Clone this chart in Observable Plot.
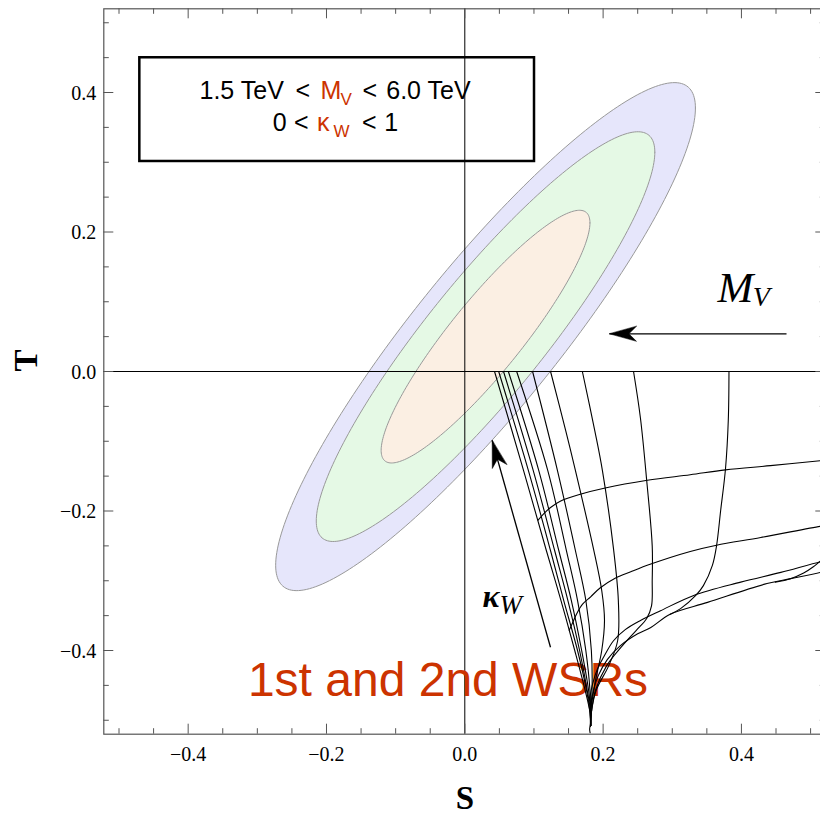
<!DOCTYPE html>
<html><head><meta charset="utf-8">
<script src="https://cdn.jsdelivr.net/npm/d3@7"></script>
<script src="https://cdn.jsdelivr.net/npm/@observablehq/plot@0.6"></script>
<style>
html,body{margin:0;padding:0;background:#fff;overflow:hidden;}
#chart{width:820px;height:817px;overflow:hidden;}
</style></head><body><div id="chart"></div>
<script>
// ---------------- data ----------------
const xDomain = [-0.522, 0.522];
const yDomain = [-0.52, 0.52];
const majorTicks = [-0.4, -0.2, 0, 0.2, 0.4];
const minorTicks = [-0.5, -0.45, -0.35, -0.3, -0.25, -0.15, -0.1, -0.05, 0.05, 0.1, 0.15, 0.25, 0.3, 0.35, 0.45, 0.5];

// experimental fit (S,T) ellipses
const fitCenter = [0.030, 0.050];
const fitSigma = [0.100, 0.120];
const fitRho = 0.90;
const confidenceLevels = [0.99, 0.95, 0.68];

// lines of constant M_V (kappa_W varies along them), [S, T]
const lineMV1 = [[0.043,0],[0.085,-0.142],[0.118,-0.257],[0.139,-0.328],[0.159,-0.400],[0.174,-0.457],[0.181,-0.489],[0.182,-0.508]];
const lineMV2 = [[0.049,0],[0.092,-0.142],[0.124,-0.257],[0.143,-0.328],[0.163,-0.400],[0.176,-0.457],[0.181,-0.489],[0.182,-0.508]];
const lineMV3 = [[0.056,0],[0.099,-0.142],[0.130,-0.257],[0.149,-0.328],[0.166,-0.400],[0.177,-0.457],[0.182,-0.489],[0.182,-0.508]];
const lineMV4 = [[0.063,0],[0.107,-0.142],[0.136,-0.257],[0.154,-0.328],[0.169,-0.400],[0.179,-0.457],[0.182,-0.489],[0.182,-0.508]];
const lineMV5 = [[0.075,0],[0.120,-0.142],[0.147,-0.257],[0.163,-0.328],[0.175,-0.400],[0.181,-0.457],[0.182,-0.489],[0.182,-0.508]];
const lineMV6 = [[0.098,0],[0.134,-0.142],[0.160,-0.257],[0.175,-0.328],[0.183,-0.400],[0.184,-0.457],[0.182,-0.489],[0.182,-0.508]];
const lineMV7 = [[0.124,0],[0.146,-0.085],[0.160,-0.142],[0.186,-0.254],[0.198,-0.314],[0.202,-0.357],[0.198,-0.400],[0.189,-0.443],[0.182,-0.489],[0.182,-0.508]];
const lineMV8 = [[0.170,0],[0.188,-0.085],[0.199,-0.142],[0.215,-0.254],[0.222,-0.328],[0.221,-0.386],[0.208,-0.422],[0.190,-0.457],[0.183,-0.489],[0.182,-0.508]];
const lineMV9 = [[0.244,0],[0.254,-0.067],[0.263,-0.156],[0.271,-0.250],[0.271,-0.300],[0.270,-0.336],[0.263,-0.354],[0.248,-0.371],[0.228,-0.393],[0.205,-0.422],[0.189,-0.457],[0.183,-0.489],[0.182,-0.508]];
const lineMV10 = [[0.382,0],[0.381,-0.070],[0.377,-0.139],[0.370,-0.199],[0.364,-0.250],[0.358,-0.278],[0.345,-0.307],[0.334,-0.321],[0.312,-0.340],[0.297,-0.348]];

// lines of constant kappa_W (M_V varies along them), [S, T]
const lineKA = [[0.106,-0.213],[0.114,-0.204],[0.124,-0.195],[0.138,-0.186],[0.167,-0.176],[0.203,-0.167],[0.264,-0.156],[0.326,-0.148],[0.377,-0.141],[0.442,-0.135],[0.514,-0.128],[0.522,-0.127]];
const lineKB = [[0.151,-0.371],[0.156,-0.360],[0.162,-0.347],[0.170,-0.334],[0.182,-0.323],[0.196,-0.310],[0.218,-0.296],[0.240,-0.287],[0.269,-0.276],[0.326,-0.258],[0.364,-0.249],[0.428,-0.238],[0.514,-0.222],[0.522,-0.221]];
const lineKC = [[0.180,-0.472],[0.185,-0.447],[0.192,-0.426],[0.201,-0.409],[0.215,-0.386],[0.232,-0.370],[0.254,-0.357],[0.283,-0.343],[0.331,-0.321],[0.399,-0.302],[0.457,-0.288],[0.514,-0.273],[0.522,-0.272]];
const lineKD = [[0.182,-0.483],[0.186,-0.457],[0.193,-0.436],[0.206,-0.413],[0.225,-0.393],[0.250,-0.376],[0.269,-0.367],[0.297,-0.348],[0.351,-0.331],[0.437,-0.304],[0.471,-0.297],[0.514,-0.288],[0.522,-0.286]];
const lineKE = [[0.449,-0.302],[0.471,-0.297],[0.490,-0.289],[0.504,-0.280],[0.514,-0.272],[0.522,-0.267]];
const lineTail = [[0.182,-0.489],[0.1815,-0.505],[0.1805,-0.513],[0.1812,-0.518]];

// annotation arrows (tail -> tip)
const arrowMV = {x1: 0.4652, y1: 0.0540, x2: 0.2092, y2: 0.0540};
const arrowKW = {x1: 0.1239, y1: -0.3953, x2: 0.0396, y2: -0.0989};

// box
const legendBox = {x1: -0.4699, x2: 0.1008, y1: 0.3011, y2: 0.4498};

// ---------------- layout / style ----------------
const W = 820, H = 817;
const mL = 103.3, mR = -5.3, mT = 8.3, mB = 83.3;
const innerW = W - mL - mR, innerH = H - mT - mB;
const kx = innerW / (xDomain[1] - xDomain[0]);
const ky = innerH / (yDomain[1] - yDomain[0]);
const serif = "'Liberation Serif', 'Times New Roman', serif";
const sans = "'Liberation Sans', Arial, sans-serif";
const red = "#cc3300";
const frameColor = "#555";
const fills = ["#e6e6fb", "#e5f9e5", "#fbefe3"];

// ellipse contours
const ellipses = confidenceLevels.map(p => {
  const k = Math.sqrt(-2 * Math.log(1 - p));
  return d3.range(0, 241).map(i => {
    const t = 2 * Math.PI * i / 240;
    return {
      S: fitCenter[0] + k * fitSigma[0] * Math.cos(t),
      T: fitCenter[1] + k * fitSigma[1] * (fitRho * Math.cos(t) + Math.sqrt(1 - fitRho * fitRho) * Math.sin(t))
    };
  });
});

const mvLines = [lineMV1, lineMV2, lineMV3, lineMV4, lineMV5, lineMV6, lineMV7, lineMV8, lineMV9, lineMV10];
const kLines = [lineKA, lineKB, lineKC, lineKD, lineKE, lineTail];
const curveRows = [...mvLines, ...kLines].flatMap((ln, id) => ln.map(([S, T]) => ({S, T, id})));

const arrows = [arrowMV, arrowKW];
const headShape = {
  draw(ctx, l) {
    const w = 7.5;
    ctx.moveTo(0, 0);
    ctx.lineTo(-w, l);
    ctx.lineTo(0, l * 0.72);
    ctx.lineTo(w, l);
    ctx.closePath();
  }
};
const angle = d => Math.atan2((d.x2 - d.x1) * kx, (d.y2 - d.y1) * ky) * 180 / Math.PI;

const fmt = d3.format(".1f");

function txt(s, S, T, o = {}) {
  return Plot.text([{s, S, T}], {x: "S", y: "T", text: "s", textAnchor: "start", lineAnchor: "bottom", fontFamily: sans, fontSize: 25, fill: "black", ...o});
}

const tickSet = (vals, len) => [
  Plot.tickX(vals, {x: d => d, insetTop: innerH - len, stroke: frameColor}),
  Plot.tickX(vals, {x: d => d, insetBottom: innerH - len, stroke: frameColor}),
  Plot.tickY(vals, {y: d => d, insetRight: innerW - len, stroke: frameColor}),
  Plot.tickY(vals, {y: d => d, insetLeft: innerW - len, stroke: frameColor})
];

const plot = Plot.plot({
  width: W, height: H,
  marginLeft: mL, marginRight: mR, marginTop: mT, marginBottom: mB,
  x: {domain: xDomain, axis: null},
  y: {domain: yDomain, axis: null},
  style: {background: "white", fontFamily: sans, overflow: "hidden"},
  marks: [
    ...ellipses.map((e, i) => Plot.line(e, {x: "S", y: "T", fill: fills[i], stroke: "#999", strokeWidth: 1})),
    Plot.ruleX([0], {stroke: "black", strokeWidth: 1}),
    Plot.ruleY([0], {stroke: "black", strokeWidth: 1}),
    Plot.rect([legendBox], {x1: "x1", x2: "x2", y1: "y1", y2: "y2", fill: "none", stroke: "black", strokeWidth: 2.5}),
    // box text line 1
    txt("1.5 TeV", -0.3836, 0.3900),
    txt("<", -0.2448, 0.3900),
    txt("M", -0.2086, 0.3900, {fill: red}),
    txt("V", -0.1797, 0.3814, {fill: red, fontSize: 17}),
    txt("<", -0.1478, 0.3900),
    txt("6.0 TeV", -0.1136, 0.3900),
    // box text line 2
    txt("0", -0.2776, 0.3445),
    txt("<", -0.2470, 0.3445),
    txt("κ", -0.2137, 0.3445, {fill: red}),
    txt("W", -0.1899, 0.3359, {fill: red, fontSize: 17}),
    txt("<", -0.1486, 0.3445),
    txt("1", -0.1163, 0.3445),
    // big label
    Plot.text([{s: "1st and 2nd WSRs", S: -0.0243, T: -0.4659}], {x: "S", y: "T", text: "s", textAnchor: "middle", lineAnchor: "bottom", fontFamily: sans, fontSize: 48, fill: red}),
    // model grid
    Plot.line(curveRows, {x: "S", y: "T", z: "id", stroke: "black", strokeWidth: 1.1, curve: "catmull-rom"}),
    // arrows
    Plot.link(arrows, {x1: "x1", y1: "y1", x2: "x2", y2: "y2", stroke: "black", strokeWidth: 1.3}),
    Plot.vector(arrows, {x: "x2", y: "y2", rotate: angle, length: 27, shape: headShape, anchor: "start", fill: "black", stroke: "black", strokeWidth: 0.5}),
    // arrow labels
    txt("M", 0.3654, 0.0994, {fontFamily: serif, fontStyle: "italic", fontSize: 43}),
    txt("V", 0.4165, 0.0946, {fontFamily: serif, fontStyle: "italic", fontSize: 28}),
    txt("κ", 0.0256, -0.3379, {fontFamily: serif, fontStyle: "italic", fontWeight: "bold", fontSize: 32}),
    txt("W", 0.0502, -0.3474, {fontFamily: serif, fontStyle: "italic", fontSize: 27}),
    // frame & ticks
    Plot.frame({stroke: frameColor, strokeWidth: 1.2}),
    ...tickSet(majorTicks, 10),
    ...tickSet(minorTicks, 5.5),
    Plot.text(majorTicks, {x: d => d, frameAnchor: "bottom", text: fmt, lineAnchor: "top", dy: 13, fontSize: 20, fontFamily: serif}),
    Plot.text(majorTicks, {y: d => d, frameAnchor: "left", text: fmt, textAnchor: "end", dx: -7.5, dy: 1, fontSize: 20, fontFamily: serif}),
    Plot.text(["S"], {text: d => d, frameAnchor: "bottom", lineAnchor: "bottom", dy: 75, fontSize: 33, fontWeight: "bold", fontFamily: serif}),
    Plot.text(["T"], {text: d => d, frameAnchor: "left", lineAnchor: "bottom", rotate: -90, dx: -67.3, fontSize: 33, fontWeight: "bold", fontFamily: serif})
  ]
});
document.getElementById("chart").append(plot);
</script>
</body></html>
